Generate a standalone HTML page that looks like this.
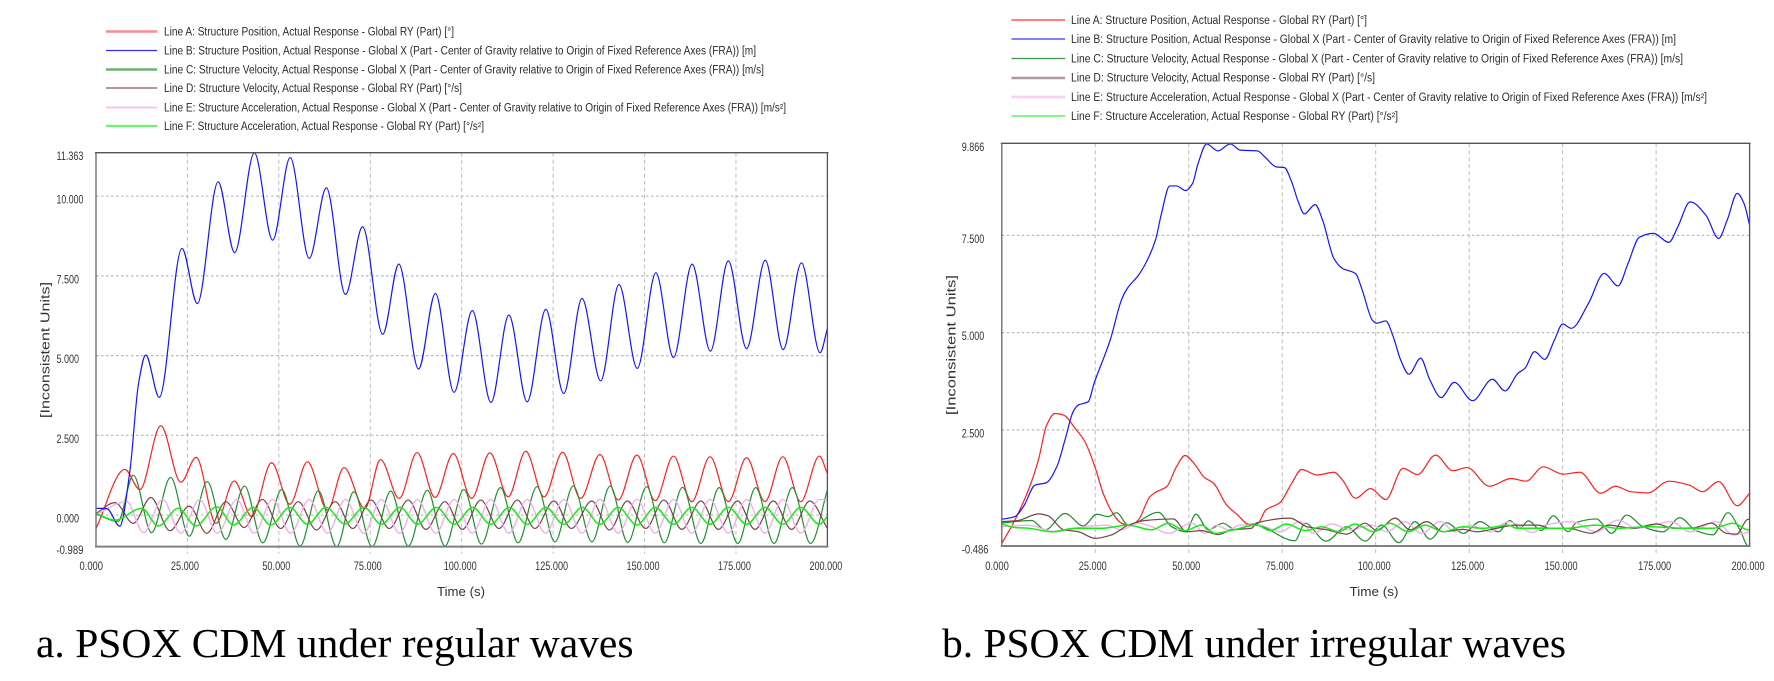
<!DOCTYPE html>
<html lang="en">
<head>
<meta charset="utf-8">
<title>PSOX CDM under regular and irregular waves</title>
<style>
html,body{margin:0;padding:0;background:#fff;width:1774px;height:681px;overflow:hidden}
svg{display:block;filter:blur(0.3px)}
.lg{font:11.5px "Liberation Sans",sans-serif;fill:#2c2c2c}
.tk{font:11.5px "Liberation Sans",sans-serif;fill:#333}
.at{font:12.5px "Liberation Sans",sans-serif;fill:#333}
.cap{font:41px "Liberation Serif",serif;fill:#000}
</style>
</head>
<body>
<svg id="fig" xmlns="http://www.w3.org/2000/svg" width="1774" height="681" viewBox="0 0 1774 681">
  <rect width="1774" height="681" fill="#fff"/>
  <g>
    <g><line x1="106" x2="157" y1="31.5" y2="31.5" stroke="#ff8a8a" stroke-width="2.4"/><text class="lg" x="164" y="35.5" textLength="290" lengthAdjust="spacingAndGlyphs">Line A: Structure Position, Actual Response - Global RY (Part) [°]</text></g>
    <g><line x1="106" x2="157" y1="50.5" y2="50.5" stroke="#3030ff" stroke-width="1.3"/><text class="lg" x="164" y="54.5" textLength="592" lengthAdjust="spacingAndGlyphs">Line B: Structure Position, Actual Response - Global X (Part - Center of Gravity relative to Origin of Fixed Reference Axes (FRA)) [m]</text></g>
    <g><line x1="106" x2="157" y1="69.5" y2="69.5" stroke="#70b070" stroke-width="2.4"/><text class="lg" x="164" y="73.5" textLength="600" lengthAdjust="spacingAndGlyphs">Line C: Structure Velocity, Actual Response - Global X (Part - Center of Gravity relative to Origin of Fixed Reference Axes (FRA)) [m/s]</text></g>
    <g><line x1="106" x2="157" y1="88" y2="88" stroke="#805858" stroke-width="1.3"/><text class="lg" x="164" y="92" textLength="298" lengthAdjust="spacingAndGlyphs">Line D: Structure Velocity, Actual Response - Global RY (Part) [°/s]</text></g>
    <g><line x1="106" x2="157" y1="107.5" y2="107.5" stroke="#f8c4f4" stroke-width="2"/><text class="lg" x="164" y="111.5" textLength="622" lengthAdjust="spacingAndGlyphs">Line E: Structure Acceleration, Actual Response - Global X (Part - Center of Gravity relative to Origin of Fixed Reference Axes (FRA)) [m/s²]</text></g>
    <g><line x1="106" x2="157" y1="126" y2="126" stroke="#70f070" stroke-width="2.2"/><text class="lg" x="164" y="130" textLength="320" lengthAdjust="spacingAndGlyphs">Line F: Structure Acceleration, Actual Response - Global RY (Part) [°/s²]</text></g>
  </g>
  <g>
    <g><line x1="1011.5" x2="1065" y1="20" y2="20" stroke="#ff3030" stroke-width="1.3"/><text class="lg" x="1071" y="24" textLength="296" lengthAdjust="spacingAndGlyphs">Line A: Structure Position, Actual Response - Global RY (Part) [°]</text></g>
    <g><line x1="1011.5" x2="1065" y1="39" y2="39" stroke="#3030ff" stroke-width="1.3"/><text class="lg" x="1071" y="43" textLength="605" lengthAdjust="spacingAndGlyphs">Line B: Structure Position, Actual Response - Global X (Part - Center of Gravity relative to Origin of Fixed Reference Axes (FRA)) [m]</text></g>
    <g><line x1="1011.5" x2="1065" y1="58.5" y2="58.5" stroke="#3a9a4a" stroke-width="1.3"/><text class="lg" x="1071" y="62.5" textLength="612" lengthAdjust="spacingAndGlyphs">Line C: Structure Velocity, Actual Response - Global X (Part - Center of Gravity relative to Origin of Fixed Reference Axes (FRA)) [m/s]</text></g>
    <g><line x1="1011.5" x2="1065" y1="78" y2="78" stroke="#b09898" stroke-width="2.6"/><text class="lg" x="1071" y="81.5" textLength="304" lengthAdjust="spacingAndGlyphs">Line D: Structure Velocity, Actual Response - Global RY (Part) [°/s]</text></g>
    <g><line x1="1011.5" x2="1065" y1="97" y2="97" stroke="#fad0f6" stroke-width="2.8"/><text class="lg" x="1071" y="101" textLength="636" lengthAdjust="spacingAndGlyphs">Line E: Structure Acceleration, Actual Response - Global X (Part - Center of Gravity relative to Origin of Fixed Reference Axes (FRA)) [m/s²]</text></g>
    <g><line x1="1011.5" x2="1065" y1="116" y2="116" stroke="#40f040" stroke-width="1.3"/><text class="lg" x="1071" y="120" textLength="327" lengthAdjust="spacingAndGlyphs">Line F: Structure Acceleration, Actual Response - Global RY (Part) [°/s²]</text></g>
  </g>
  <g id="chart-a"></g>
  <g id="chart-b"></g>
  <text class="at" transform="translate(49.5,418) rotate(-90)" textLength="136" lengthAdjust="spacingAndGlyphs">[Inconsistent Units]</text>
  <text class="at" transform="translate(955.5,415) rotate(-90)" textLength="140" lengthAdjust="spacingAndGlyphs">[Inconsistent Units]</text>
  <text class="at" x="437" y="596" textLength="48" lengthAdjust="spacingAndGlyphs">Time (s)</text>
  <text class="at" x="1349.5" y="596" textLength="49" lengthAdjust="spacingAndGlyphs">Time (s)</text>
  <text class="cap" x="36" y="657" textLength="597.5" lengthAdjust="spacingAndGlyphs">a. PSOX CDM under regular waves</text>
  <text class="cap" x="942" y="657" textLength="624" lengthAdjust="spacingAndGlyphs">b. PSOX CDM under irregular waves</text>
</svg>
<script>
/* ---------- shared x axis ---------- */
const xTicks = [0,25,50,75,100,125,150,175,200];
const xTickLabels = ["0.000","25.000","50.000","75.000","100.000","125.000","150.000","175.000","200.000"];

/* ---------- chart a: y axis ---------- */
const aYTicks = [11.363,10,7.5,5,2.5,0,-0.989];
const aYTickLabels = ["11.363","10.000","7.500","5.000","2.500","0.000","-0.989"];

/* ---------- chart a: series ---------- */
const aLineAT = [0,7.9,12,17.7,23.2,27.4,32.8,37.8,42.6,48,53,57.8,63.3,67.8,73.5,77.8,82.9,87.8,92.7,97.7,102.7,107.7,112.7,117.5,122.5,127.6,132.5,137.8,142.8,147.9,152.9,157.9,162.9,167.9,172.9,177.9,182.9,187.8,192.7,197.8,200];
const aLineAV = [-0.42,1.43,0.8,2.8,1.03,1.81,-0.26,1.07,-0.05,1.64,0.34,1.67,0.16,1.49,0.2,1.74,0.52,1.96,0.55,1.93,0.52,1.95,0.57,2,0.57,1.97,0.52,1.9,0.47,1.88,0.45,1.85,0.42,1.83,0.42,1.8,0.42,1.83,0.42,1.85,1.3];

const aLineBT = [0,2,3,6.5,9.3,11.6,13.6,17.3,23.5,27.7,33.4,37.9,43.3,48.3,53.1,58.3,63,68.2,72.9,78.4,82.8,88.2,92.8,97.9,102.9,108,112.9,117.9,123,127.9,132.9,138,143,148,153.1,157.9,163,168,172.9,177.9,183,187.9,192.9,198,200];
const aLineBV = [0.21,0.21,0.2,-0.35,1.41,4.1,5.02,3.69,8.36,6.63,10.45,8.23,11.36,8.62,11.21,8.05,10.26,6.92,9.04,5.67,7.87,4.58,6.95,3.85,6.41,3.53,6.27,3.55,6.45,3.81,6.79,4.21,7.23,4.6,7.6,4.94,7.87,5.14,7.97,5.22,7.99,5.19,7.91,5.09,5.85];

const aLineCT = [0,6,10.2,15.2,20.4,25.5,30.4,35.5,40.6,45.6,50.8,55.8,60.8,65.8,70.5,75.5,80.6,85.4,90.6,95.4,100.6,105.4,110.6,115.4,120.6,125.5,130.5,135.6,140.6,145.4,150.6,155.4,160.4,165.4,170.4,175.5,180.4,185.4,190.4,195.4,200];
const aLineCV = [0.03,-0.2,1.25,-0.55,1.18,-0.66,1.05,-0.76,0.91,-0.87,0.8,-0.97,0.76,-0.99,0.73,-0.99,0.75,-0.97,0.78,-0.97,0.8,-0.91,0.86,-0.87,0.89,-0.84,0.91,-0.84,0.91,-0.86,0.89,-0.87,0.87,-0.89,0.86,-0.89,0.86,-0.89,0.86,-0.89,0.78];

const aLineDT = [0,5.2,10.2,15,20.2,25.5,30.3,35.5,40.5,45.5,50.5,55.3,60.3,65.4,70.2,75.2,80.2,85.4,90.2,95.4,100.2,105.2,110.2,115.2,120,125.2,130,135.6,140.4,145.3,150.3,155.3,160.2,165.4,170.2,175.4,180.2,185.2,190.2,195.2,200];
const aLineDV = [0.05,0.39,-0.26,0.55,-0.49,0.28,-0.57,0.42,-0.39,0.49,-0.42,0.42,-0.47,0.42,-0.42,0.47,-0.42,0.47,-0.45,0.42,-0.45,0.47,-0.42,0.47,-0.42,0.44,-0.42,0.44,-0.47,0.44,-0.42,0.47,-0.45,0.44,-0.45,0.44,-0.45,0.44,-0.45,0.44,-0.42];

const aLineET = [0,8.4,13,18.2,23.2,28.3,33.2,38.5,43.2,48.3,53.2,58.3,63.3,68.2,73.2,78,83,87.9,92.9,97.9,102.9,107.9,112.9,117.9,122.9,127.9,132.9,137.8,142.8,147.9,152.9,157.9,162.9,167.9,172.9,177.9,182.9,187.8,192.7,197.8,200];
const aLineEV = [0.02,0.42,-0.55,0.49,-0.57,0.49,-0.57,0.49,-0.57,0.49,-0.57,0.49,-0.57,0.49,-0.57,0.49,-0.57,0.49,-0.57,0.49,-0.57,0.49,-0.57,0.49,-0.57,0.49,-0.57,0.5,-0.57,0.49,-0.57,0.49,-0.57,0.49,-0.57,0.49,-0.57,0.49,-0.57,0.49,0.47];

const aLineFT = [0,5.2,12.5,17,22.5,27.3,33,37.6,43,47.8,53,57.8,62.9,68,73.3,78,83.1,87.9,93.1,97.9,103,107.9,113,117.9,123,127.9,133,137.8,142.8,147.9,152.9,157.9,162.9,167.9,172.9,177.9,182.9,187.8,192.7,197.8,200];
const aLineFV = [0.05,-0.16,0.21,-0.34,0.21,-0.34,0.26,-0.31,0.24,-0.31,0.24,-0.29,0.24,-0.28,0.24,-0.29,0.24,-0.29,0.24,-0.29,0.24,-0.29,0.24,-0.29,0.24,-0.29,0.24,-0.29,0.24,-0.31,0.24,-0.29,0.24,-0.29,0.24,-0.29,0.24,-0.29,0.24,-0.29,-0.05];

/* ---------- chart b: y axis ---------- */
const bYTicks = [9.866,7.5,5,2.5,-0.486];
const bYTickLabels = ["9.866","7.500","5.000","2.500","-0.486"];

/* ---------- chart b: series ---------- */
const bLineAT = [0,3.5,7.1,9.8,12,14.2,16.5,19.6,22.2,24.9,27.1,29.4,32,34.3,36.5,39.6,41.4,44.1,46.7,49,51.7,54,56.7,60.1,63.1,66.1,68.4,70.6,74.4,77.5,80.2,84.3,88.8,91.1,94.6,98.6,102.7,107.3,111.2,116,120.6,124.4,130.4,136.2,140.2,144.8,150.1,154.6,160.2,164.1,168.2,172.8,178.4,183.8,187.4,191.7,196.7,200];
const bLineAV = [-0.42,0.18,0.95,1.73,2.62,2.92,2.88,2.54,2.2,1.55,0.87,0.4,0.1,0.04,0.18,0.78,0.91,1.04,1.55,1.84,1.6,1.29,1.12,0.57,0.31,0.07,0.09,0.44,0.63,1.12,1.48,1.34,1.41,1.21,0.74,0.99,0.71,1.51,1.35,1.85,1.45,1.53,1.05,1.25,1.18,1.55,1.36,1.41,0.87,1.05,0.91,0.88,1.18,1.08,0.91,1.17,0.55,0.87];

const bLineBT = [0,3.5,5.8,8.9,11.9,14.7,16.9,19.1,20.5,23.1,24.7,29,32,33.6,36.6,38.9,41.1,42.7,44.9,46.7,49.2,51,52.5,54.8,57.8,61.1,63.8,68.4,70.3,73.4,75.6,77.5,79.3,80.9,83.8,85.8,88.8,91.1,94.6,96.4,99.1,100.2,102.7,104.7,106.7,108.9,112,114.5,117.5,121,125.9,131.2,134.6,138,139.9,142.5,145.2,147.8,150,152.3,156.9,161.1,164.8,167.5,170.5,174.3,178.4,180.8,184.1,188.3,191.7,194,196.7,198.5,200];
const bLineBV = [0.2,0.27,0.53,1.08,1.14,1.55,2.24,2.97,3.14,3.22,3.7,4.81,5.84,6.14,6.48,6.86,7.38,8.06,8.77,8.77,8.65,8.83,9.35,9.85,9.67,9.85,9.69,9.67,9.52,9.26,9.24,8.88,8.36,8.05,8.29,7.89,6.91,6.65,6.52,6.09,5.32,5.24,5.3,4.89,4.29,3.93,4.34,3.78,3.33,3.72,3.25,3.8,3.5,3.95,4.08,4.51,4.31,4.81,5.22,5.11,5.75,6.52,6.2,6.78,7.45,7.55,7.32,7.72,8.36,8.02,7.42,7.89,8.58,8.32,7.76];

const bLineCT = [0,8,11.6,16.9,21.8,25.4,28.5,30.7,33.8,41.9,45.4,49.2,51.9,55.2,59.2,62.4,67.3,78.4,81.1,86.7,92.2,97.2,101.6,106.2,110.5,114.5,119,123.4,127.9,132.8,135.9,138.5,140.8,144.3,147.5,151.5,153.7,159,163.1,167.1,171.5,176.9,181.3,185.8,190.2,194.2,197.4,199.6,200];
const bLineCV = [0.11,0.17,-0.07,0.35,0.03,0.33,0.27,0.37,0.05,0.38,0.01,-0.12,0.33,-0.07,0.1,-0.07,0.07,-0.35,0.1,-0.36,0.01,-0.36,0.05,-0.4,0.14,-0.31,0.11,-0.16,0.14,-0.12,0.17,-0.03,0.16,-0.09,0.29,-0.12,0.12,0.21,-0.16,0.31,0.01,-0.12,0.24,-0.1,-0.2,0.37,-0.07,-0.48,-0.47];

const bLineDT = [0,4.4,9.8,12.4,16.4,20.5,25,29.4,33.8,38.3,45.9,49.4,53.4,57.9,61.5,66.8,68.2,77.1,81.6,86.9,92.2,97.2,100.3,105.2,109.2,113.6,118.1,123.4,127,132.4,137.2,143.4,146.6,151.5,157.7,162.2,168.9,175.1,179.5,184.9,189.8,193.8,196.5,199.6,200];
const bLineDV = [0.14,0.17,0.34,0.29,-0.06,-0.12,-0.29,-0.2,0.05,0.17,0.21,-0.12,-0.09,-0.19,-0.07,-0.03,0.11,0.23,0.01,-0.07,-0.18,0.1,-0.09,0.23,-0.07,0.14,-0.12,-0.06,-0.12,-0.03,0.05,0.05,-0.03,-0.03,-0.16,0.05,-0.03,0.08,-0.03,-0.02,0.1,-0.16,-0.18,0.2,0.2];

const bLineET = [0,7.1,14.2,22,28,32,36.5,40.1,44.5,50.8,54.3,57.4,60.6,63.7,69,74.4,79.8,83.3,88.2,93.1,98.9,102.9,107.8,112.3,117.2,121.2,125.2,130.6,135.5,142.1,145.2,152.4,159,164.8,169.7,179.1,184,191.1,195.6,200];
const bLineEV = [0.01,0.05,-0.12,0.01,0.05,-0.07,0.1,0.01,-0.16,0.1,-0.16,0.05,-0.07,0.05,0.05,-0.12,0.14,-0.16,0.08,-0.07,0.05,-0.12,0.14,-0.16,0.14,-0.12,0.05,-0.12,0.14,-0.14,0.05,0.14,-0.12,0.18,-0.03,0.14,-0.12,0.14,-0.2,-0.12];

const bLineFT = [0,3.5,7.1,13.3,19.6,26.7,33.8,40.1,44.5,49,53.4,57,62,68.2,71.7,76.2,81.1,85.6,90,94.5,99.4,103.8,108.7,113.2,118.1,123.4,128.8,135.5,137.7,144,151,159,164.4,173.3,183.1,190.2,195.6,199.6,200];
const bLineFV = [0.08,-0.01,-0.03,-0.12,-0.03,-0.03,0.05,-0.07,0.1,-0.09,0.05,-0.16,-0.07,0.05,-0.09,0.08,-0.09,0.01,-0.12,0.08,-0.12,0.1,-0.12,0.05,-0.12,0.01,-0.03,0.05,-0.03,-0.03,-0.03,0.05,-0.03,0.01,-0.03,-0.03,0.1,-0.07,-0.07];

/* ---------- drawing ---------- */
const NS = "http://www.w3.org/2000/svg";
const lineStyle = {
  a:{color:"#ff1f1f",w:1.2}, b:{color:"#1414ff",w:1.2}, c:{color:"#1f8f30",w:1.2},
  d:{color:"#774444",w:1.2}, e:{color:"#f4aef0",w:1.4}, f:{color:"#12ee12",w:1.5}
};
function mk(tag, attrs, parent){
  const el = document.createElementNS(NS, tag);
  for (const k in attrs) el.setAttribute(k, attrs[k]);
  parent.appendChild(el);
  return el;
}
function smoothPath(ts, vs, xf, yf){
  const n = Math.min(ts.length, vs.length);
  const px = [], py = [];
  for (let i = 0; i < n; i++){ px.push(xf(ts[i])); py.push(yf(vs[i])); }
  const s = [], m = [];
  for (let i = 0; i < n-1; i++) s.push((py[i+1]-py[i])/(px[i+1]-px[i]));
  m[0] = s[0]; m[n-1] = s[n-2];
  for (let i = 1; i < n-1; i++){
    m[i] = (s[i-1]*s[i] <= 0) ? 0 : 2*s[i-1]*s[i]/(s[i-1]+s[i]);
  }
  let d = "M" + px[0].toFixed(2) + " " + py[0].toFixed(2);
  for (let i = 0; i < n-1; i++){
    const h = (px[i+1]-px[i])/3;
    d += "C" + (px[i]+h).toFixed(2) + " " + (py[i]+m[i]*h).toFixed(2) + " " +
         (px[i+1]-h).toFixed(2) + " " + (py[i+1]-m[i+1]*h).toFixed(2) + " " +
         px[i+1].toFixed(2) + " " + py[i+1].toFixed(2);
  }
  return d;
}
function labelWidth(s, unit){ return (s.length === 5 ? 23.5 : s.length === 6 ? 28 : 33) * unit; }

function drawChart(id, box, yTicks, yLabels, yLabelX, series){
  const root = document.getElementById(id);
  const yMax = yTicks[0], yMin = yTicks[yTicks.length-1];
  const xf = t => box.l + (t - xTicks[0]) / (xTicks[xTicks.length-1] - xTicks[0]) * (box.r - box.l);
  const yf = v => box.b - (v - yMin) / (yMax - yMin) * (box.b - box.t);

  const clip = mk("clipPath", {id:id+"-clip"}, root);
  mk("rect", {x:box.l, y:box.t-1, width:box.r-box.l, height:box.b-box.t+2}, clip);

  xTicks.forEach((t, i) => {
    if (i > 0 && i < xTicks.length-1){
      const g = mk("line", {x1:xf(t), x2:xf(t), y1:box.t, y2:box.b+7, stroke:"#bdbdbd", "stroke-width":1, "stroke-dasharray":"4 3"}, root);
      
      
    }
    const lbl = mk("text", {class:"tk", x:xf(t)-(xTickLabels[i].length===7?18:16.5), y:570, textLength:labelWidth(xTickLabels[i],1), lengthAdjust:"spacingAndGlyphs"}, root);
    
    
    lbl.textContent = xTickLabels[i];
  });
  yTicks.forEach((v, i) => {
    if (i > 0 && i < yTicks.length-1){
      const g = mk("line", {x1:box.l, x2:box.r, y1:yf(v), y2:yf(v), stroke:"#b8b8b8", "stroke-width":1.2, "stroke-dasharray":"2.5 2.5"}, root);
      
      
    }
    const lbl = mk("text", {class:"tk", x:yLabelX, y:yf(v)+7.5, textLength:labelWidth(yLabels[i],0.96), lengthAdjust:"spacingAndGlyphs"}, root);
    
    
    lbl.textContent = yLabels[i];
  });

  const plot = mk("g", {"clip-path":"url(#"+id+"-clip)"}, root);
  
  
  series.forEach(sr => {
    const st = lineStyle[sr.key];
    const p = mk("path", {d:smoothPath(sr.t, sr.v, xf, yf), fill:"none", stroke:st.color, "stroke-width":st.w, "stroke-linejoin":"round"}, plot);
    
    
  });

  const top = mk("line", {x1:box.l-1, x2:box.r+1, y1:box.t, y2:box.t, stroke:"#555", "stroke-width":1.4}, root);
  
  
  const left = mk("line", {x1:box.l, x2:box.l, y1:box.t, y2:box.b, stroke:"#666", "stroke-width":1.3}, root);
  
  
  const right = mk("line", {x1:box.r, x2:box.r, y1:box.t, y2:box.b, stroke:"#555", "stroke-width":1.3}, root);
  
  
  const bottom = mk("line", {x1:box.l-1, x2:box.r+1, y1:box.b, y2:box.b, stroke:"#808080", "stroke-width":2}, root);
  
  
}

drawChart("chart-a", {l:96, r:827.4, t:152.7, b:546.6}, aYTicks, aYTickLabels, 56.5, [
  {key:"a", t:aLineAT, v:aLineAV},
  {key:"c", t:aLineCT, v:aLineCV},
  {key:"d", t:aLineDT, v:aLineDV},
  {key:"e", t:aLineET, v:aLineEV},
  {key:"b", t:aLineBT, v:aLineBV},
  {key:"f", t:aLineFT, v:aLineFV}
]);
drawChart("chart-b", {l:1001.8, r:1749.6, t:143.3, b:546}, bYTicks, bYTickLabels, 961.7, [
  {key:"a", t:bLineAT, v:bLineAV},
  {key:"b", t:bLineBT, v:bLineBV},
  {key:"c", t:bLineCT, v:bLineCV},
  {key:"e", t:bLineET, v:bLineEV},
  {key:"d", t:bLineDT, v:bLineDV},
  {key:"f", t:bLineFT, v:bLineFV}
]);
</script>
</body>
</html>
